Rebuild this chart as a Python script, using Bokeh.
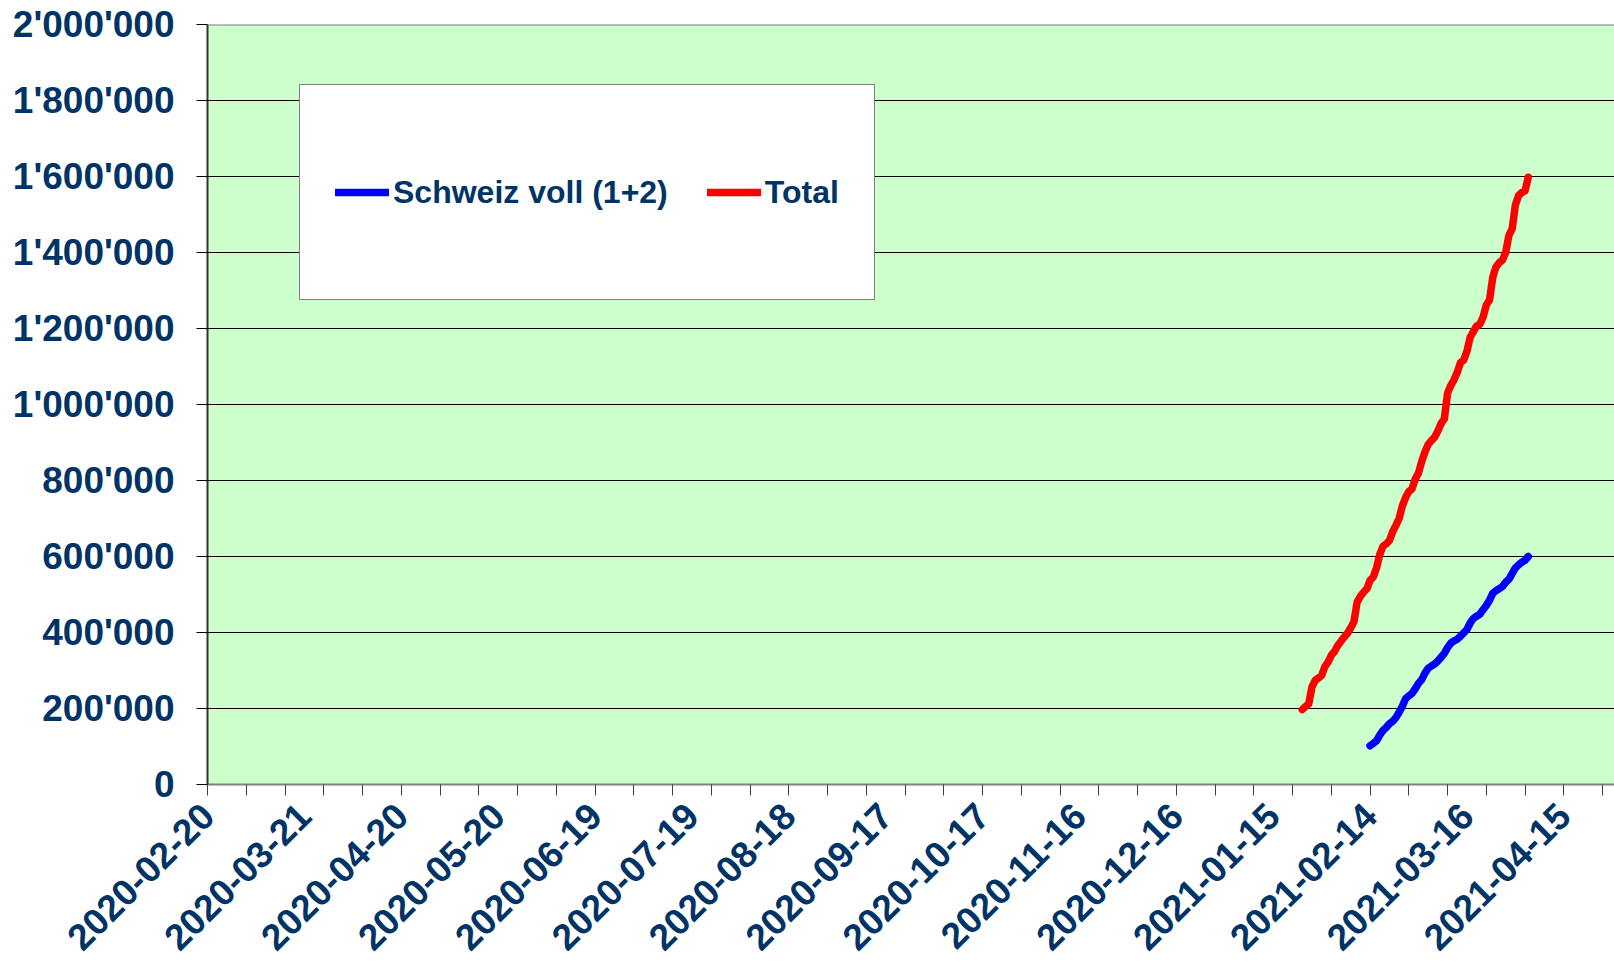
import pandas as pd
from math import pi
from bokeh.plotting import figure
from bokeh.models import FixedTicker, Legend, LegendItem, Range1d, Span
from bokeh.embed import file_html
from bokeh.resources import INLINE

# ---------------- data ----------------
axis_start = "2020-02-20"
x_labels = ["2020-02-20", "2020-03-21", "2020-04-20", "2020-05-20", "2020-06-19",
            "2020-07-19", "2020-08-18", "2020-09-17", "2020-10-17", "2020-11-16",
            "2020-12-16", "2021-01-15", "2021-02-14", "2021-03-16", "2021-04-15"]
x_tick_step_days = 12
x_end_days = 435.7

y_ticks = [0, 200000, 400000, 600000, 800000, 1000000, 1200000, 1400000,
           1600000, 1800000, 2000000]
y_labels = ["0", "200'000", "400'000", "600'000", "800'000", "1'000'000",
            "1'200'000", "1'400'000", "1'600'000", "1'800'000", "2'000'000"]

total_start = "2021-01-24"
total_values = [197000, 205000, 212000, 256000, 274000, 280000, 287000, 310000,
                322000, 340000, 350000, 366000, 377000, 388000, 398000, 412000,
                428000, 480000, 495000, 506000, 515000, 537000, 546000, 570000,
                605000, 627000, 633000, 642000, 665000, 682000, 700000, 733000,
                755000, 771000, 778000, 804000, 820000, 850000, 875000, 895000,
                905000, 914000, 930000, 950000, 962000, 1030000, 1050000, 1065000,
                1085000, 1110000, 1117000, 1140000, 1177000, 1192000, 1207000,
                1211000, 1230000, 1262000, 1275000, 1335000, 1362000, 1373000,
                1380000, 1400000, 1445000, 1462000, 1525000, 1550000, 1558000,
                1562000, 1598000]

voll_start = "2021-02-14"
voll_values = [102000, 108000, 115000, 130000, 142000, 150000, 160000, 166000,
               176000, 190000, 206000, 226000, 233000, 240000, 252000, 266000,
               276000, 293000, 306000, 312000, 317000, 325000, 335000, 345000,
               360000, 372000, 378000, 382000, 390000, 399000, 408000, 425000,
               437000, 443000, 448000, 460000, 471000, 485000, 503000, 510000,
               515000, 521000, 532000, 540000, 555000, 570000, 578000, 585000,
               590000, 600000]

# ---------------- helpers ----------------
t0 = pd.Timestamp(axis_start)
def to_days(dates):
    return [(pd.Timestamp(d) - t0).days for d in dates]

total_x = to_days(pd.date_range(total_start, periods=len(total_values), freq="D"))
voll_x = to_days(pd.date_range(voll_start, periods=len(voll_values), freq="D"))
label_days = to_days(x_labels)
minor_days = list(range(0, int(x_end_days) + 1, x_tick_step_days))

NAVY = "#003366"
FONT = "Liberation Sans"

p = figure(width=1614, height=966, output_backend="svg", toolbar_location=None,
           x_range=Range1d(0, x_end_days), y_range=Range1d(0, 2000000),
           min_border_left=207, min_border_right=0, min_border_top=24,
           min_border_bottom=182)
p.background_fill_color = "#CCFFCC"
p.border_fill_color = "white"
p.outline_line_color = None

p.xgrid.grid_line_color = None
p.ygrid.grid_line_color = "black"
p.ygrid.grid_line_width = 1
p.ygrid.ticker = FixedTicker(ticks=y_ticks[:-1])

p.add_layout(Span(location=y_ticks[-1], dimension="width",
                  line_color="#808080", line_width=2))

# y axis
ya = p.yaxis[0]
ya.ticker = FixedTicker(ticks=y_ticks, minor_ticks=[])
ya.major_label_overrides = {t: l for t, l in zip(y_ticks, y_labels)}
ya.major_label_text_font = FONT
ya.major_label_text_font_style = "bold"
ya.major_label_text_font_size = "37px"
ya.major_label_text_color = NAVY
ya.major_tick_out = 11
ya.major_tick_in = 0
ya.major_tick_line_color = "black"
ya.major_label_standoff = 22
ya.axis_line_color = "#333333"
ya.axis_line_width = 2

# x axis
xa = p.xaxis[0]
xa.ticker = FixedTicker(ticks=label_days, minor_ticks=minor_days)
xa.major_label_overrides = {d: l for d, l in zip(label_days, x_labels)}
xa.major_label_orientation = pi / 4
xa.major_label_text_font = FONT
xa.major_label_text_font_style = "bold"
xa.major_label_text_font_size = "37px"
xa.major_label_text_color = NAVY
xa.major_tick_out = 0
xa.major_tick_in = 0
xa.minor_tick_out = 11
xa.minor_tick_in = 0
xa.minor_tick_line_color = "#404040"
xa.major_label_standoff = 14
xa.axis_line_color = "#808080"
xa.axis_line_width = 2

r_voll = p.line(voll_x, voll_values, line_color="#0000FF", line_width=7.5,
                line_cap="round", line_join="round")
r_total = p.line(total_x, total_values, line_color="#FF0000", line_width=7.5,
                 line_cap="round", line_join="round")

legend = Legend(items=[LegendItem(label="Schweiz voll (1+2)", renderers=[r_voll]),
                       LegendItem(label="Total", renderers=[r_total])],
                orientation="horizontal", location=(92, 484), margin=0,
                padding=35, spacing=39, glyph_width=54, glyph_height=144,
                label_height=144, label_standoff=4,
                label_text_font=FONT, label_text_font_style="bold",
                label_text_font_size="32px", label_text_color=NAVY,
                border_line_color="black", border_line_width=1,
                background_fill_color="white", background_fill_alpha=1.0)
p.add_layout(legend)

open("out.html", "w").write(file_html(p, INLINE))
